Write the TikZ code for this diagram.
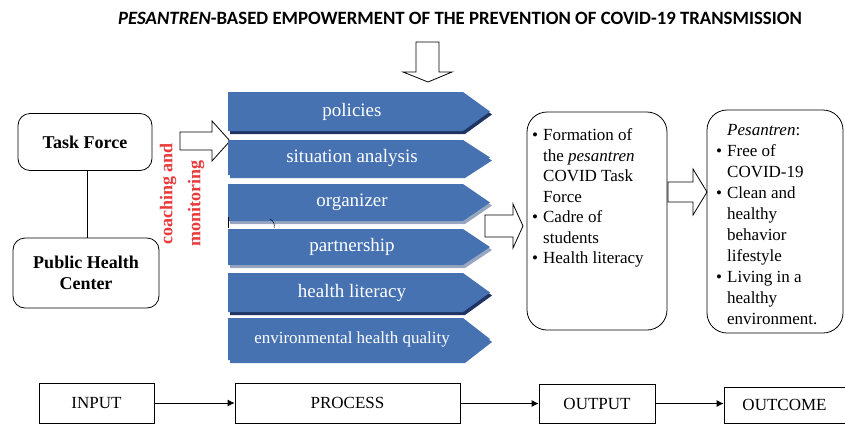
\documentclass[tikz,border=0pt]{standalone}
\usepackage{fontspec}
\setmainfont{Liberation Serif}
\newfontfamily\titlefont{Carlito}
\usetikzlibrary{arrows.meta}

\definecolor{chevblue}{RGB}{70,114,178}
\definecolor{navyshade}{RGB}{32,52,100}
\definecolor{greyshade}{RGB}{150,165,192}
\definecolor{coachred}{RGB}{232,58,58}

% fat outlined arrow pointing right
\newcommand\rightblock[6]{% tail x, head x, tip x, mid y, shaft half, head half
  \draw[fatarrow] (#1,{#4-#5}) -- (#2,{#4-#5}) -- (#2,{#4-#6}) -- (#3,#4)
    -- (#2,{#4+#6}) -- (#2,{#4+#5}) -- (#1,{#4+#5}) -- cycle;}

\begin{document}
\begin{tikzpicture}[x=1pt,y=-1pt,
    roundbox/.style={draw, rounded corners=12pt, line width=0.8pt},
    flatbox/.style={draw, line width=0.8pt, font=\fontsize{17}{20}\selectfont},
    fatarrow/.style={draw, fill=white, line width=0.8pt},
    chevtext/.style={text=white},
    flow/.style={-{Latex[length=7pt,width=7pt]}, line width=0.8pt}]
  \useasboundingbox (0,0) rectangle (845,424);

  % Title and the arrow below it
  \node[font=\titlefont\bfseries\fontsize{18.8}{22}\selectfont] (title) at (460,18)
    {\textit{PESANTREN}-BASED EMPOWERMENT OF THE PREVENTION OF COVID-19 TRANSMISSION};
  \draw[fatarrow] (416,42) -- (439,42) -- (439,72) -- (452,72) -- (428,82)
    -- (403,72) -- (416,72) -- cycle;

  % Input side
  \node[roundbox, minimum width=134pt, minimum height=57pt,
    font=\fontsize{18}{20}\selectfont\bfseries] (task) at (85,142) {Task Force};
  \node[roundbox, minimum width=146pt, minimum height=70pt, align=center,
    font=\fontsize{18}{21}\selectfont\bfseries] (phc) at (86,273) {Public Health\\Center};
  \draw[line width=0.8pt] (87,171) -- (87,238);
  \node[rotate=90, anchor=west, text=coachred, inner sep=0pt,
    font=\fontsize{18}{20}\selectfont\bfseries] (coach) at (168,245) {coaching and};
  \node[rotate=90, anchor=west, text=coachred, inner sep=0pt,
    font=\fontsize{18}{20}\selectfont\bfseries] (monit) at (196,247) {monitoring};
  \rightblock{180}{212}{230}{141}{9}{20}

  % Process chevrons
  \foreach \nm/\yt/\yb/\shd/\sz/\txt in {pol/92/131/navyshade/19/policies,
      sit/140/175/chevblue/19/situation analysis,
      org/184/221/greyshade/19/organizer,
      par/229/265/greyshade/19/partnership,
      lit/273/312/navyshade/19/health literacy,
      env/318/360/chevblue/17/environmental health quality}
  {
    \pgfmathsetmacro\ym{(\yt+\yb)/2}
    \fill[\shd] (230,\yt+3) -- (465,\yt+3) -- (492,\ym+3) -- (465,\yb+3) -- (230,\yb+3) -- cycle;
    \fill[chevblue] (228,\yt) -- (463,\yt) -- (490,\ym) -- (463,\yb) -- (228,\yb) -- cycle;
    \node[chevtext, font=\fontsize{\sz}{20}\selectfont] (\nm) at (352,\ym) {\txt};
  }
  % stray marks between organizer and partnership
  \draw[line width=0.5pt] (228,217) -- (228,228);
  \draw[line width=0.5pt] (270,219) to[bend left=40] (274,228);

  % Output and outcome
  \rightblock{485}{513}{523}{226}{11}{22}
  \node[roundbox, rounded corners=20pt, minimum width=140pt, minimum height=218pt]
    (outbox) at (597,221) {};
  \node[anchor=north west, inner sep=0pt, font=\fontsize{17}{20.5}\selectfont] (outtxt) at (532,126)
    {\begin{tabular}{@{}l@{\hspace{5pt}}l@{}}
      \textbullet & Formation of\\
                  & the \textit{pesantren}\\
                  & COVID Task\\
                  & Force\\
      \textbullet & Cadre of\\
                  & students\\
      \textbullet & Health literacy
     \end{tabular}};
  \rightblock{668}{693}{707}{192}{10}{23}
  \node[roundbox, rounded corners=20pt, minimum width=136pt, minimum height=223pt]
    (endbox) at (775,221.5) {};
  \node[anchor=north west, inner sep=0pt, font=\fontsize{17}{21}\selectfont] (endtxt) at (716,121)
    {\begin{tabular}{@{}l@{\hspace{5pt}}l@{}}
      \multicolumn{2}{@{}l}{\hspace{11pt}\textit{Pesantren}:}\\
      \textbullet & Free of\\
                  & COVID-19\\
      \textbullet & Clean and\\
                  & healthy\\
                  & behavior\\
                  & lifestyle\\
      \textbullet & Living in a\\
                  & healthy\\
                  & environment.
     \end{tabular}};

  % Bottom row
  \node[flatbox, minimum width=115pt, minimum height=40pt] (input) at (96.5,403) {INPUT};
  \node[flatbox, minimum width=225pt, minimum height=40pt] (process) at (347.5,403) {PROCESS};
  \node[flatbox, minimum width=116pt, minimum height=39pt] (output) at (597,403.5) {OUTPUT};
  \node[flatbox, minimum width=121pt, minimum height=36pt] (outcome) at (784.5,405) {OUTCOME};
  \draw[flow] (input) -- (process);
  \draw[flow] (process.east |- output) -- (output);
  \draw[flow] (output) -- (outcome.west |- output);
\end{tikzpicture}
\end{document}
